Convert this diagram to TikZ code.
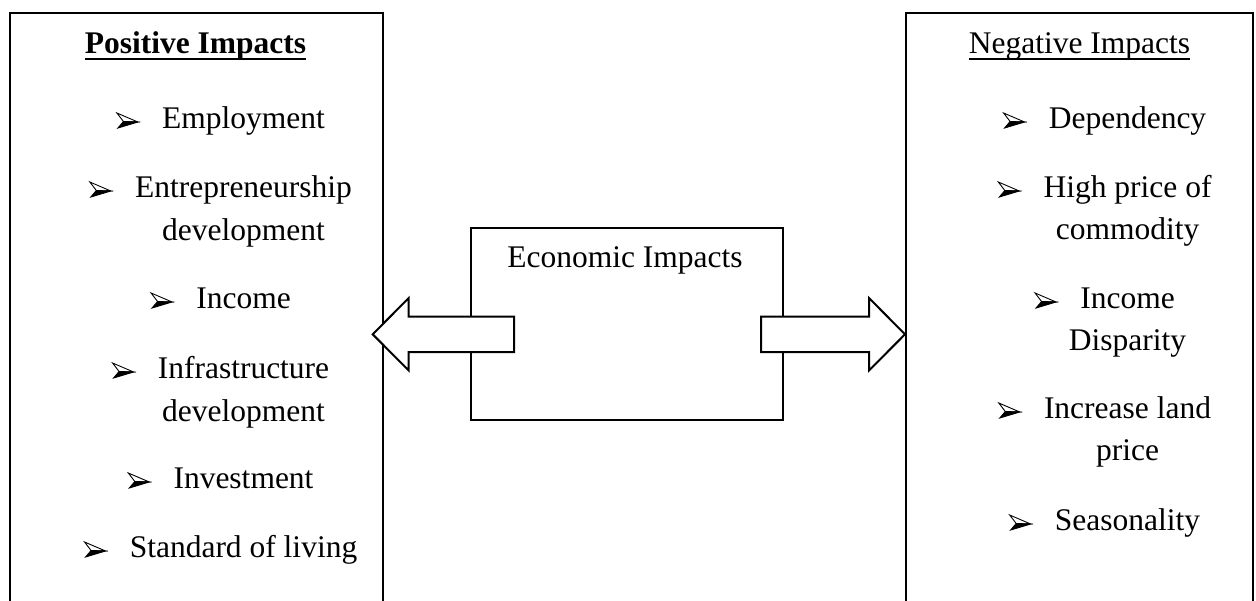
\documentclass[tikz,border=0pt]{standalone}
\usepackage{fontspec}
\setmainfont{Liberation Serif}
\usetikzlibrary{calc}
\tikzset{
  box/.style={draw, line width=2pt, rectangle, inner sep=0pt, anchor=north west},
  itemtext/.style={anchor=base, inner sep=0pt, font=\fontsize{31.5}{40}\selectfont},
  titletext/.style={anchor=base, inner sep=0pt, font=\fontsize{31.5}{40}\selectfont},
  blockarrow/.style={draw, fill=white, line width=2pt, line join=miter},
  uline/.style={line width=2pt},
  bul/.pic={
    \filldraw[fill=white, draw=black, line width=0.9pt, line join=miter] (0,-15) -- (21,-6) -- (6.5,-6.5) -- cycle;
    \filldraw[fill=black, draw=black, line width=0.9pt, line join=miter] (6.5,-6.5) -- (21,-6) -- (1,0) -- cycle;
  }
}
\begin{document}
\begin{tikzpicture}[x=1pt,y=-1pt]
\useasboundingbox (0,0) rectangle (1256,600);
\fill[white] (0,0) rectangle (1256,600);
\clip (0,0) rectangle (1256,600);

% boxes
\node[box, minimum width=373.5pt, minimum height=640pt] (pos) at (8.5,12) {};
\node[box, minimum width=346.7pt, minimum height=640pt] (neg) at (905,12) {};
\node[box, minimum width=312pt, minimum height=192pt] (eco) at (470,227) {};

% titles
\node[titletext] (ptitle) at (195.5,53) {\bfseries Positive Impacts};
\draw[uline] ($(ptitle.base west)+(0,6)$) -- ($(ptitle.base east)+(0,6)$);
\node[titletext] (ntitle) at (1079.5,53) {Negative Impacts};
\draw[uline] ($(ntitle.base west)+(0,6)$) -- ($(ntitle.base east)+(0,6)$);
\node[titletext] (etitle) at (625,267) {Economic Impacts};

% positive items
\node[itemtext] (p1) at (243.5,128) {Employment};
\node[itemtext] (p2) at (243.5,197) {Entrepreneurship};
\node[itemtext] (p2b) at (243.5,240) {development};
\node[itemtext] (p3) at (243.5,308) {Income};
\node[itemtext] (p4) at (243.5,378) {Infrastructure};
\node[itemtext] (p4b) at (243.5,421) {development};
\node[itemtext] (p5) at (243.5,488) {Investment};
\node[itemtext] (p6) at (243.5,557) {Standard of living};
\foreach \n in {p1,p2,p3,p4,p5,p6}
  \pic at ($(\n.base west)+(-45,0)$) {bul};

% negative items
\node[itemtext] (n1) at (1127.5,128) {Dependency};
\node[itemtext] (n2) at (1127.5,197) {High price of};
\node[itemtext] (n2b) at (1127.5,239) {commodity};
\node[itemtext] (n3) at (1127.5,308) {Income};
\node[itemtext] (n3b) at (1127.5,350) {Disparity};
\node[itemtext] (n4) at (1127.5,418) {Increase land};
\node[itemtext] (n4b) at (1127.5,460) {price};
\node[itemtext] (n5) at (1127.5,530) {Seasonality};
\foreach \n in {n1,n2,n3,n4,n5}
  \pic at ($(\n.base west)+(-45,0)$) {bul};

% block arrows
\coordinate (ltip) at ($(pos.east |- 0,334.3)+(-11.3,0)$);
\coordinate (ltail) at ($(eco.west |- 0,334.3)+(44,0)$);
\draw[blockarrow] ($(ltail)+(0,-17.6)$) -- ($(ltip)+(36,-17.6)$) -- ($(ltip)+(36,-36.3)$) -- (ltip)
  -- ($(ltip)+(36,36.2)$) -- ($(ltip)+(36,17.7)$) -- ($(ltail)+(0,17.7)$) -- cycle;

\coordinate (rtip) at (neg.west |- ltip);
\coordinate (rtail) at ($(eco.east |- 0,334.3)+(-23,0)$);
\draw[blockarrow] ($(rtail)+(0,-17.6)$) -- ($(rtip)+(-36,-17.6)$) -- ($(rtip)+(-36,-36.3)$) -- (rtip)
  -- ($(rtip)+(-36,36.2)$) -- ($(rtip)+(-36,17.7)$) -- ($(rtail)+(0,17.7)$) -- cycle;
\end{tikzpicture}
\end{document}
